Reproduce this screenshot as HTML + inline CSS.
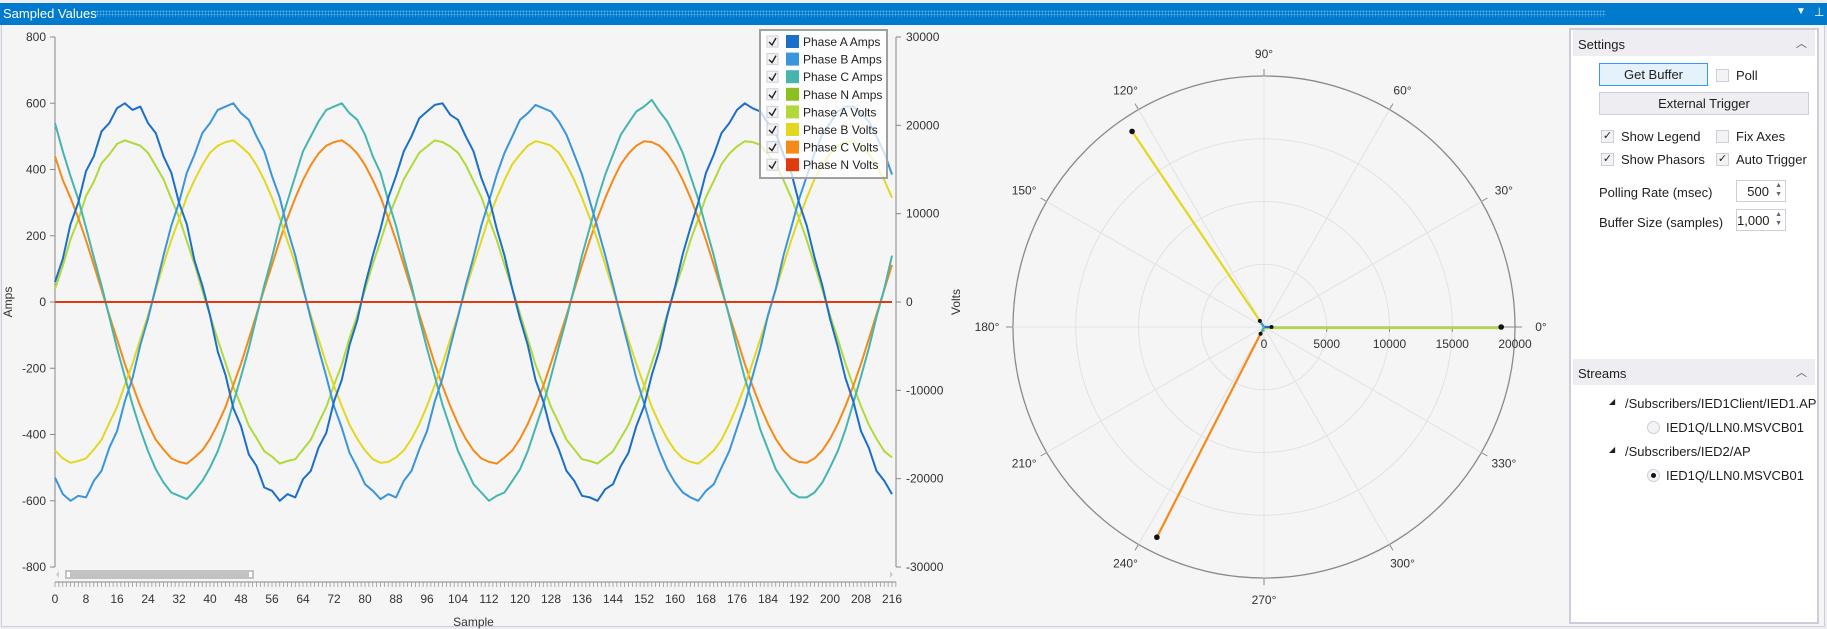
<!DOCTYPE html>
<html><head><meta charset="utf-8">
<style>
*{box-sizing:border-box}
body{margin:0;width:1827px;height:629px;overflow:hidden;background:#EEEEF2;font-family:"Liberation Sans",sans-serif;position:relative}
.abs{position:absolute}
#titlebar{left:0;top:3px;width:1827px;height:22px;background:#007ACC;color:#fff;font-size:13px}
#main{left:1px;top:25px;width:1824px;height:602px;background:#F5F5F5;border:1px solid #CCCEDB;border-top:none}
#panel{left:1569px;top:28px;width:250px;height:596px;background:#fff;border:2px solid #CCCEDB}
.hdr{position:absolute;left:2px;width:242px;height:26px;background:#EEEEF2;font-size:13px;color:#1E1E1E;padding:7px 0 0 5px}
.chev{position:absolute;right:8px;top:5px;font-size:11px;color:#555}
.btn{position:absolute;background:#EEEEF2;border:1px solid #CCCEDB;font-size:13px;color:#1E1E1E;text-align:center;line-height:21px}
.cb{position:absolute;width:13px;height:13px;border:1px solid #CCCEDB;background:#F3F3F3;font-size:11px;line-height:11px;text-align:center;color:#222}
.lbl{position:absolute;font-size:13px;color:#1E1E1E;white-space:nowrap}
.spin{position:absolute;width:50px;height:22px;border:1px solid #CCCEDB;background:#fff;font-size:13px;text-align:right;padding:3px 16px 0 0;color:#1E1E1E}
.spin i{position:absolute;right:3px;font-style:normal;font-size:7px;color:#666}
</style></head><body>
<div id="titlebar" class="abs">
 <span class="abs" style="left:3px;top:3px">Sampled Values</span>
 <div class="abs" style="left:96px;top:7px;width:1510px;height:7px;background-image:radial-gradient(circle,#5AAEE6 0.8px,transparent 1px);background-size:3px 3px"></div>
 <span class="abs" style="left:1796px;top:3px;font-size:10px">▼</span>
 <span class="abs" style="left:1814px;top:2px;font-size:12px">⊥</span>
</div>
<div id="main" class="abs"></div>

<svg class="abs" style="left:0;top:0" width="1827" height="629" id="svg"></svg>

<div id="panel" class="abs">
 <div class="hdr" style="top:0">Settings<span class="chev">︿</span></div>
 <div class="btn" style="left:28px;top:33px;width:109px;height:23px;border-color:#3399FF;background:#E5F1FB">Get Buffer</div>
 <div class="cb" style="left:145px;top:39px"></div>
 <div class="lbl" style="left:165px;top:38px">Poll</div>
 <div class="btn" style="left:28px;top:62px;width:210px;height:23px">External Trigger</div>
 <div class="cb" style="left:30px;top:100px">✓</div>
 <div class="lbl" style="left:50px;top:99px">Show Legend</div>
 <div class="cb" style="left:145px;top:100px"></div>
 <div class="lbl" style="left:165px;top:99px">Fix Axes</div>
 <div class="cb" style="left:30px;top:123px">✓</div>
 <div class="lbl" style="left:50px;top:122px">Show Phasors</div>
 <div class="cb" style="left:145px;top:123px">✓</div>
 <div class="lbl" style="left:165px;top:122px">Auto Trigger</div>
 <div class="lbl" style="left:28px;top:155px">Polling Rate (msec)</div>
 <div class="spin" style="left:165px;top:150px">500<i style="top:1px">▲</i><i style="top:10px">▼</i></div>
 <div class="lbl" style="left:28px;top:185px">Buffer Size (samples)</div>
 <div class="spin" style="left:165px;top:179px">1,000<i style="top:1px">▲</i><i style="top:10px">▼</i></div>
 <div class="hdr" style="top:329px">Streams<span class="chev">︿</span></div>
 <div class="lbl" style="left:38px;top:367px;font-size:8px">◢</div>
 <div class="lbl" style="left:54px;top:366px">/Subscribers/IED1Client/IED1.AP</div>
 <div class="abs" style="left:76px;top:391px;width:13px;height:13px;border-radius:50%;border:1px solid #CCCEDB;background:#F3F3F3"></div>
 <div class="lbl" style="left:95px;top:390px">IED1Q/LLN0.MSVCB01</div>
 <div class="lbl" style="left:38px;top:415px;font-size:8px">◢</div>
 <div class="lbl" style="left:54px;top:414px">/Subscribers/IED2/AP</div>
 <div class="abs" style="left:76px;top:439px;width:13px;height:13px;border-radius:50%;border:1px solid #CCCEDB;background:#F3F3F3"><div style="position:absolute;left:3px;top:3px;width:5px;height:5px;border-radius:50%;background:#111"></div></div>
 <div class="lbl" style="left:95px;top:438px">IED1Q/LLN0.MSVCB01</div>
</div>

<script>
// ---- data (every 2nd sample) ----
const sampleStep = 2;
const seriesNames = ["Phase A Amps","Phase B Amps","Phase C Amps","Phase N Amps","Phase A Volts","Phase B Volts","Phase C Volts","Phase N Volts"];
const phaseAAmps = [60,130,235,300,395,440,515,540,585,600,580,590,540,510,440,390,300,235,125,50,-40,-150,-220,-320,-375,-460,-495,-560,-570,-600,-580,-590,-535,-510,-440,-395,-300,-235,-130,-55,50,140,220,315,380,455,500,555,575,595,600,565,550,500,455,375,315,220,140,40,-50,-130,-235,-300,-390,-445,-510,-540,-585,-590,-600,-565,-550,-495,-455,-375,-315,-220,-145,-40,45,145,225,300,390,445,510,540,580,600,585,575,540,510,445,390,300,230,135,50,-50,-135,-230,-300,-390,-440,-510,-540,-580];
const phaseBAmps = [-530,-580,-600,-585,-590,-540,-510,-440,-390,-300,-230,-130,-50,45,140,230,300,390,445,510,540,580,590,600,570,550,500,455,380,315,220,140,45,-50,-140,-225,-315,-380,-455,-500,-550,-570,-595,-580,-590,-540,-510,-445,-390,-300,-230,-135,-45,50,135,230,305,385,450,500,550,570,595,585,575,545,505,445,385,305,225,140,50,-45,-135,-230,-305,-385,-450,-505,-545,-575,-590,-600,-570,-550,-500,-450,-380,-310,-225,-140,-40,40,140,225,310,380,450,505,540,575,590,590,570,545,500,450,385];
const phaseCAmps = [540,455,380,310,225,135,50,-45,-140,-225,-310,-385,-450,-505,-545,-575,-585,-595,-570,-540,-500,-450,-385,-305,-225,-140,-45,50,135,230,305,380,455,500,545,580,590,600,570,550,505,440,390,305,230,135,50,-50,-140,-225,-310,-380,-450,-500,-550,-575,-600,-585,-575,-540,-505,-450,-380,-310,-225,-135,-50,45,140,225,310,385,445,505,540,575,590,610,575,545,500,450,380,310,225,140,45,-45,-140,-230,-305,-385,-445,-505,-540,-575,-590,-590,-575,-545,-500,-450,-385,-305,-225,-140,-45,40,140];
const phaseNAmps = new Array(109).fill(0);
const phaseAVolts = [1500,4100,7100,9300,12000,13600,15700,16700,17900,18300,18000,17700,16900,15400,13900,11700,9600,6900,4300,1300,-1500,-4300,-6900,-9600,-11700,-14000,-15400,-16900,-17500,-18300,-18000,-17800,-16700,-15600,-13700,-11900,-9400,-7100,-4100,-1500,1400,4300,6900,9600,11700,13900,15400,16900,17600,18300,18100,17600,16900,15500,13700,11900,9400,7000,4200,1500,-1300,-4200,-7100,-9400,-11900,-13700,-15600,-16700,-17800,-18000,-18300,-17600,-16900,-15400,-13900,-11700,-9600,-6900,-4300,-1400,1500,4100,7000,9400,11900,13700,15600,16800,17600,18200,18100,17800,16700,15600,13800,11800,9500,7000,4200,1400,-1500,-4200,-7000,-9500,-11800,-13900,-15500,-16900,-17600];
const phaseBVolts = [-16800,-17700,-18200,-18000,-17700,-16700,-15600,-13700,-11900,-9400,-7000,-4200,-1500,1400,4300,7000,9400,11900,13800,15500,16900,17700,18100,18300,17600,16800,15500,13800,11800,9500,6900,4300,1400,-1500,-4200,-7000,-9500,-11800,-13900,-15500,-16800,-17800,-18200,-18100,-17600,-16800,-15500,-13800,-11800,-9400,-7000,-4200,-1500,1500,4200,6900,9600,11800,13800,15600,16700,17700,18200,18000,17700,16900,15500,13800,11800,9500,7000,4200,1400,-1400,-4300,-7000,-9400,-11900,-13800,-15500,-16800,-17700,-18100,-18300,-17600,-16800,-15600,-13800,-11800,-9500,-6900,-4200,-1500,1400,4200,7000,9500,11800,13900,15500,16800,17700,18100,18200,17600,16800,15500,13800,11800];
const phaseCVolts = [16500,13800,11800,9500,7000,4200,1400,-1500,-4200,-7000,-9400,-11800,-13800,-15600,-16700,-17700,-18100,-18300,-17600,-16800,-15500,-13800,-11900,-9400,-7000,-4200,-1400,1500,4200,7000,9500,11800,13800,15500,16800,17700,18100,18300,17700,16800,15500,13800,11900,9500,7000,4200,1400,-1400,-4200,-7000,-9500,-11800,-13800,-15500,-16800,-17700,-18100,-18300,-17600,-16800,-15500,-13800,-11800,-9500,-6900,-4200,-1500,1400,4200,7000,9500,11800,13800,15600,16800,17700,18200,18100,17700,16800,15500,13800,11800,9500,7000,4200,1400,-1500,-4200,-7000,-9500,-11800,-13800,-15500,-16800,-17700,-18100,-18200,-17700,-16800,-15500,-13800,-11800,-9500,-7000,-4200,-1400,1400,4200];
const phaseNVolts = new Array(109).fill(0);
const ampTicks = [800,600,400,200,0,-200,-400,-600,-800];
const voltTicks = [30000,20000,10000,0,-10000,-20000,-30000];
const xTickLabels = [0,8,16,24,32,40,48,56,64,72,80,88,96,104,112,120,128,136,144,152,160,168,176,184,192,200,208,216];
// phasors: [magnitude, angleDeg]
const phasorNames = ["Phase A Amps","Phase B Amps","Phase C Amps","Phase A Volts","Phase B Volts","Phase C Volts"];
const phasorMags = [600,590,600,18900,18800,18800];
const phasorAngles = [0,124,243,0,124,243];
const radialTicks = [0,5000,10000,15000,20000];
const angleTicks = [0,30,60,90,120,150,180,210,240,270,300,330];

const colors = ["#1A6FCB","#3A95DC","#45B5AE","#8BC021","#B1D93A","#E2D820","#F58A18","#E03A0F"];
const NS = "http://www.w3.org/2000/svg";
const svg = document.getElementById('svg');
function mk(tag, attrs, parent){ const e=document.createElementNS(NS,tag); for(const k in attrs) e.setAttribute(k,attrs[k]); (parent||svg).appendChild(e); return e; }

// axes
const X0=55, XPX=3.875, YA0=302, YAS=265/800, YVS=265/30000;
const xS = s => X0 + s*XPX;
const yA = v => YA0 - v*YAS;
const yV = v => YA0 - v*YVS;

// left axis
let ax = mk('line',{x1:X0,y1:yA(800),x2:X0,y2:yA(-800),stroke:'#888'});
 
ampTicks.forEach(t=>{
  mk('line',{x1:X0-5,y1:yA(t),x2:X0,y2:yA(t),stroke:'#888'});
  const tx=mk('text',{x:X0-9,y:yA(t)+4,'text-anchor':'end','font-size':12,fill:'#333'}); tx.textContent=t;
   
});
let at = mk('text',{x:0,y:0,'font-size':12,fill:'#333','text-anchor':'middle',transform:`translate(12,${YA0}) rotate(-90)`}); at.textContent='Amps';
 
// right axis
const XR=896;
let vx = mk('line',{x1:XR,y1:yV(30000),x2:XR,y2:yV(-30000),stroke:'#888'});
 
voltTicks.forEach(t=>{
  mk('line',{x1:XR,y1:yV(t),x2:XR+5,y2:yV(t),stroke:'#888'});
  const tx=mk('text',{x:XR+10,y:yV(t)+4,'font-size':12,fill:'#333'}); tx.textContent=t;
   
});
let vt = mk('text',{x:0,y:0,'font-size':12,fill:'#333','text-anchor':'middle',transform:`translate(960,${YA0}) rotate(-90)`}); vt.textContent='Volts';
 
// x axis
const XY=582;
let xl = mk('line',{x1:X0,y1:XY,x2:XR,y2:XY,stroke:'#888'});
 
for(let s=0;s<=217;s++){ mk('line',{x1:xS(s),y1:XY,x2:xS(s),y2:XY+5,stroke:'#999','stroke-width':0.8}); }
xTickLabels.forEach(t=>{
  const tx=mk('text',{x:xS(t),y:603,'text-anchor':'middle','font-size':12,fill:'#333'}); tx.textContent=t;
   
});
let st = mk('text',{x:xS(108),y:626,'text-anchor':'middle','font-size':12,fill:'#333'}); st.textContent='Sample';
 
// scrollbar
let sb = mk('rect',{x:65,y:570,width:189,height:9,fill:'#C2C2C2'});
 
mk('rect',{x:67,y:572,width:3,height:5,fill:'#fff'}); mk('rect',{x:249,y:572,width:3,height:5,fill:'#fff'});
mk('path',{d:'M59 571 L56 574.5 L59 578 Z',fill:'#ccc'}); mk('path',{d:'M890 571 L893 574.5 L890 578 Z',fill:'#ccc'});

// series
const ampSeries = [phaseAAmps,phaseBAmps,phaseCAmps,phaseNAmps];
const voltSeries = [phaseAVolts,phaseBVolts,phaseCVolts,phaseNVolts];
const order = [[4,voltSeries[0],yV],[6,voltSeries[2],yV],[5,voltSeries[1],yV],[2,ampSeries[2],yA],[1,ampSeries[1],yA],[0,ampSeries[0],yA],[3,ampSeries[3],yA],[7,voltSeries[3],yV]];
order.forEach(([ci,data,yf])=>{
  const d = data.map((v,k)=>(k?'L':'M')+xS(k*sampleStep).toFixed(1)+' '+yf(v).toFixed(1)).join(' ');
  const p = mk('path',{d:d,fill:'none',stroke:colors[ci],'stroke-width':2,'stroke-linejoin':'round'});
  
  
});

// legend
const LX=760, LY=30;
let lg = mk('rect',{x:LX,y:LY,width:127,height:148,fill:'rgba(255,255,255,0.75)',stroke:'#A0A0A0','stroke-width':2});
 
seriesNames.forEach((n,i)=>{
  const y=LY+12+i*17.6;
  const cb=mk('rect',{x:LX+7,y:y-6,width:11,height:11,fill:'#F3F3F3',stroke:'#CCCEDB'});
   
  const ck=mk('path',{d:`M${LX+9} ${y} L${LX+12} ${y+3} L${LX+16} ${y-4}`,fill:'none',stroke:'#222','stroke-width':1.4});
  const sw=mk('rect',{x:LX+26,y:y-7,width:13,height:13,fill:colors[i]});
   
  const tx=mk('text',{x:LX+43,y:y+4,'font-size':12,fill:'#222'}); tx.textContent=n;
   
});

// polar
const CX=1264, CY=327, RMAX=20000, RPX=251;
const rS = m => m/RMAX*RPX;
radialTicks.slice(1).forEach(r=>{
  const c=mk('circle',{cx:CX,cy:CY,r:rS(r),fill:'none',stroke:r===RMAX?'#8a8a8a':'#E2E2E2','stroke-width':r===RMAX?1.3:1});
   
});
angleTicks.forEach(a=>{
  const rad=a*Math.PI/180, c=Math.cos(rad), s=Math.sin(rad);
  mk('line',{x1:CX,y1:CY,x2:CX+c*RPX,y2:CY-s*RPX,stroke:'#E2E2E2'});
  mk('line',{x1:CX+c*RPX,y1:CY-s*RPX,x2:CX+c*(RPX+7),y2:CY-s*(RPX+7),stroke:'#8a8a8a'});
  const tx=mk('text',{x:CX+c*(RPX+26),y:CY-s*(RPX+22)+4,'text-anchor':'middle','font-size':12,fill:'#333'}); tx.textContent=a+'°';
   
});
mk('line',{x1:CX,y1:CY,x2:CX+RPX,y2:CY,stroke:'#8a8a8a'});
radialTicks.forEach(r=>{
  mk('line',{x1:CX+rS(r),y1:CY,x2:CX+rS(r),y2:CY+5,stroke:'#8a8a8a'});
  const tx=mk('text',{x:CX+rS(r),y:CY+21,'text-anchor':'middle','font-size':12,fill:'#333'}); tx.textContent=r;
   
});
const phColors=[colors[0],colors[1],colors[2],colors[4],colors[5],colors[6]];
[3,4,5,0,1,2].forEach(i=>{
  const rad=phasorAngles[i]*Math.PI/180, r=rS(phasorMags[i]);
  const ex=CX+Math.cos(rad)*r, ey=CY-Math.sin(rad)*r;
  const l=mk('line',{x1:CX,y1:CY+(i===3?1:0),x2:ex,y2:ey+(i===3?1:0),stroke:phColors[i],'stroke-width':2.2});
  
  
  mk('circle',{cx:ex,cy:ey,r:i<3?2:2.8,fill:'#111'});
});
</script>
</body></html>
